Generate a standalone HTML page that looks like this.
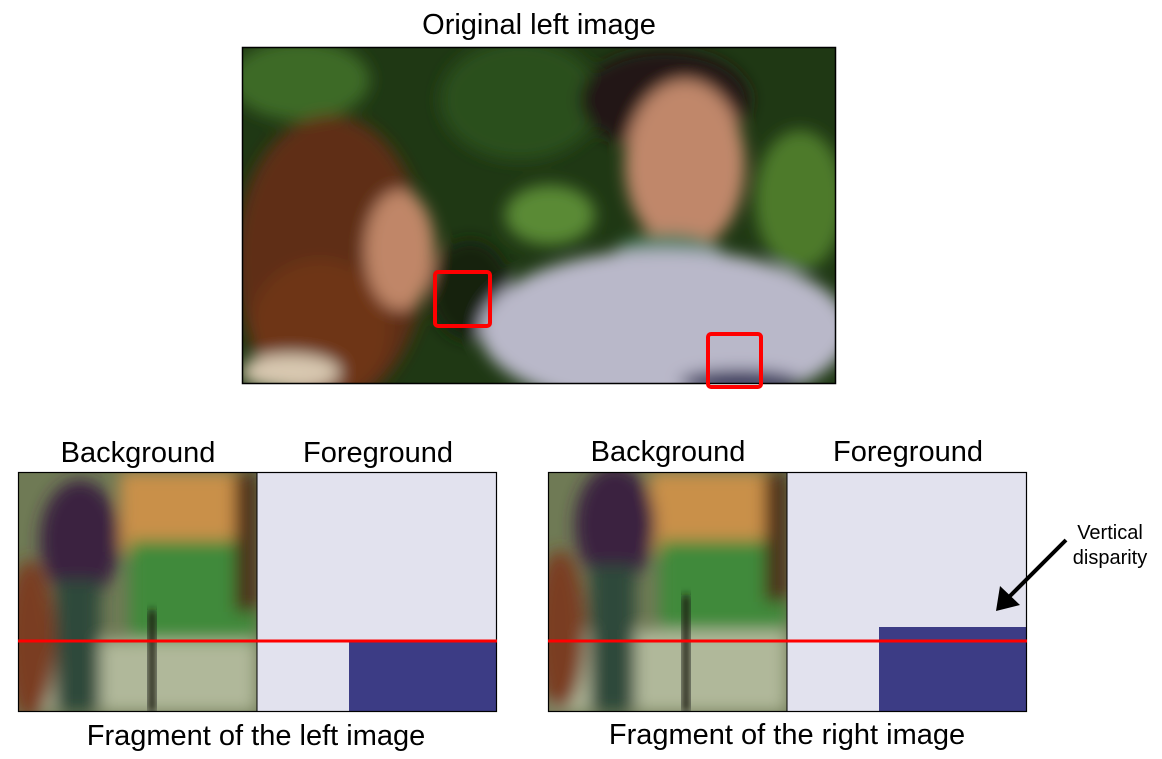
<!DOCTYPE html>
<html><head><meta charset="utf-8"><style>
html,body{margin:0;padding:0;background:#fff;}
body{width:1162px;height:759px;position:relative;overflow:hidden;font-family:"Liberation Sans",sans-serif;color:#000;}
.t{position:absolute;font-size:29px;white-space:nowrap;transform:translateX(-50%);line-height:1;}
svg{position:absolute;left:0;top:0;}
</style></head><body>
<div class="t" style="left:539px;top:11px;">Original left image</div>
<div class="t" style="left:138px;top:439px;">Background</div>
<div class="t" style="left:378px;top:439px;">Foreground</div>
<div class="t" style="left:668px;top:438px;">Background</div>
<div class="t" style="left:908px;top:438px;">Foreground</div>
<div class="t" style="left:256px;top:722px;">Fragment of the left image</div>
<div class="t" style="left:787px;top:721px;">Fragment of the right image</div>
<div class="t" style="left:1110px;top:521px;font-size:20px;text-align:center;line-height:25px;">Vertical<br>disparity</div>
<svg width="1162" height="759">
<defs>
<filter id="b8"><feGaussianBlur stdDeviation="8"/></filter>
<filter id="b4"><feGaussianBlur stdDeviation="4"/></filter>
<clipPath id="cm"><rect x="242" y="47" width="594" height="337"/></clipPath>
<clipPath id="cl"><rect x="18" y="472" width="239" height="240"/></clipPath>
<clipPath id="cr"><rect x="548" y="472" width="239" height="240"/></clipPath>
</defs>
<g clip-path="url(#cm)">
<rect x="242" y="47" width="594" height="337" fill="#1f3814"/>
<g filter="url(#b8)">
<ellipse cx="300" cy="80" rx="70" ry="40" fill="#3d6a26"/>
<ellipse cx="520" cy="100" rx="80" ry="60" fill="#2c4f1c"/>
<ellipse cx="550" cy="215" rx="45" ry="30" fill="#5a8a35"/>
<ellipse cx="800" cy="200" rx="45" ry="70" fill="#4d7a2c"/>
<ellipse cx="470" cy="290" rx="40" ry="50" fill="#142410"/>
<ellipse cx="330" cy="260" rx="95" ry="145" fill="#5e2e12"/>
<ellipse cx="320" cy="330" rx="70" ry="70" fill="#6e3614"/>
<ellipse cx="400" cy="250" rx="35" ry="60" fill="#c08668"/>
<ellipse cx="290" cy="372" rx="50" ry="18" fill="#d8c8b0"/>
<ellipse cx="665" cy="100" rx="85" ry="50" fill="#201814"/>
<ellipse cx="685" cy="165" rx="60" ry="85" fill="#c0876a"/>
<ellipse cx="668" cy="255" rx="55" ry="22" fill="#4f7f60"/>
<ellipse cx="665" cy="330" rx="185" ry="80" fill="#b9b8c9"/>
<ellipse cx="740" cy="382" rx="60" ry="12" fill="#2a2a55"/>
</g>
</g>
<rect x="242.5" y="47.5" width="593" height="336" fill="none" stroke="#000" stroke-width="1.5"/>
<rect x="435" y="272" width="55" height="54" fill="none" stroke="#f00" stroke-width="4" rx="3"/>
<rect x="708" y="334" width="53" height="53" fill="none" stroke="#f00" stroke-width="4" rx="3"/>

<g clip-path="url(#cl)">
<rect x="18" y="472" width="239" height="240" fill="#6f7a55"/>
<g filter="url(#b8)">
<rect x="120" y="472" width="137" height="80" fill="#c9904a"/>
<rect x="130" y="540" width="127" height="100" fill="#3f8a3a"/>
<rect x="18" y="640" width="239" height="72" fill="#b0b89a"/>
<ellipse cx="80" cy="540" rx="40" ry="60" fill="#3a2040"/>
<rect x="55" y="580" width="45" height="132" fill="#2e4a3a"/>
<ellipse cx="30" cy="640" rx="25" ry="80" fill="#7a3c20"/>
<rect x="235" y="472" width="22" height="140" fill="#4a2a15"/>
</g>
<rect x="148" y="610" width="8" height="102" fill="#1a1a14" filter="url(#b4)"/>
</g>
<rect x="257" y="472" width="240" height="240" fill="#e2e2ee"/>
<rect x="349" y="641" width="148" height="71" fill="#3c3c85"/>
<rect x="18.5" y="472.5" width="478" height="239" fill="none" stroke="#000" stroke-width="1.2"/>
<line x1="257" y1="472" x2="257" y2="712" stroke="#000" stroke-width="1"/>
<line x1="18" y1="641" x2="497" y2="641" stroke="#f00" stroke-width="3"/>

<g clip-path="url(#cr)">
<rect x="548" y="472" width="239" height="240" fill="#6f7a55"/>
<g filter="url(#b8)">
<rect x="650" y="472" width="137" height="80" fill="#c9904a"/>
<rect x="660" y="540" width="127" height="100" fill="#3f8a3a"/>
<rect x="548" y="630" width="239" height="82" fill="#b0b89a"/>
<ellipse cx="615" cy="525" rx="40" ry="60" fill="#3a2040"/>
<rect x="590" y="565" width="45" height="147" fill="#2e4a3a"/>
<ellipse cx="560" cy="630" rx="25" ry="80" fill="#7a3c20"/>
<rect x="765" y="472" width="22" height="130" fill="#4a2a15"/>
</g>
<rect x="682" y="595" width="8" height="117" fill="#1a1a14" filter="url(#b4)"/>
</g>
<rect x="787" y="472" width="240" height="240" fill="#e2e2ee"/>
<rect x="879" y="627" width="148" height="85" fill="#3c3c85"/>
<rect x="548.5" y="472.5" width="478" height="239" fill="none" stroke="#000" stroke-width="1.2"/>
<line x1="787" y1="472" x2="787" y2="712" stroke="#000" stroke-width="1"/>
<line x1="548" y1="641" x2="1027" y2="641" stroke="#f00" stroke-width="3"/>

<g>
<line x1="1066" y1="540" x2="1008" y2="598" stroke="#000" stroke-width="4"/>
<polygon points="996,611 1000,586 1020,605" fill="#000"/>
</g>
</svg>
</body></html>
